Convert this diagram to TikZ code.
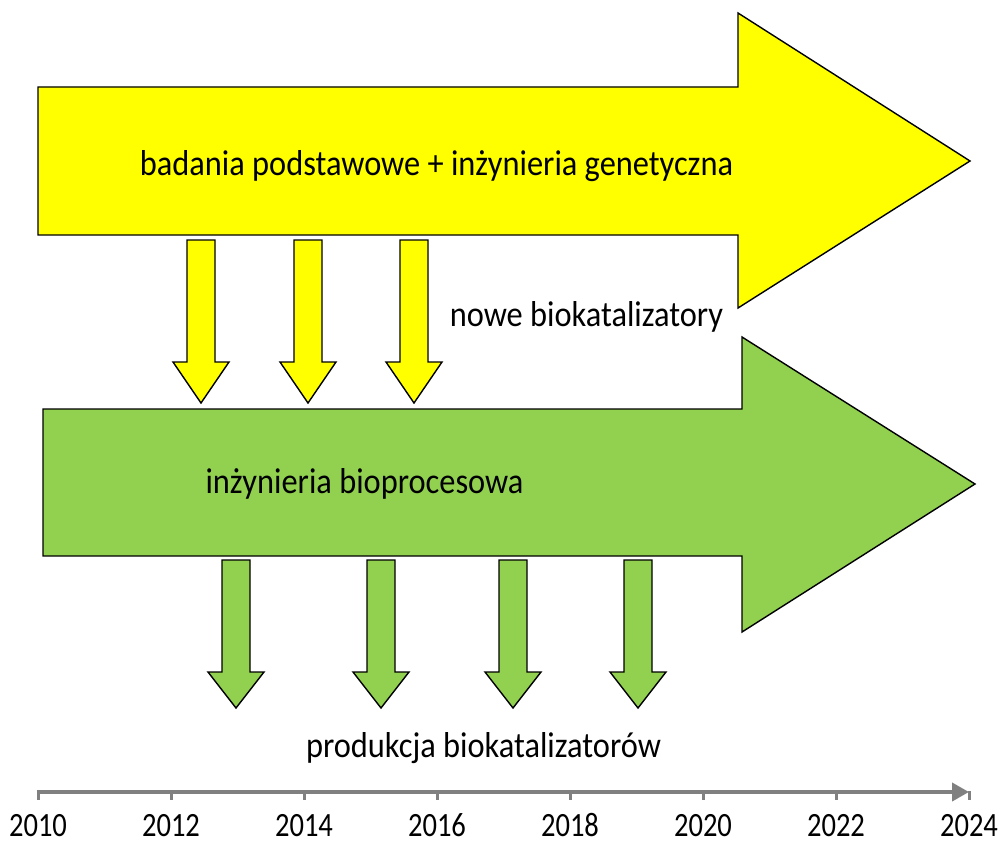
\documentclass[tikz,border=0pt]{standalone}
\usepackage{fontspec}
\setmainfont{Carlito}
\newfontfamily\lblfont[FakeStretch=0.9]{Carlito}
\newfontfamily\yrfont[FakeStretch=0.84]{Carlito}
\usetikzlibrary{arrows.meta}
\definecolor{ylw}{HTML}{FFFF00}
\definecolor{grn}{HTML}{92D050}
\definecolor{axgray}{HTML}{808080}
\tikzset{
  bigarr/.style = {draw=black, line width=1.4pt, line join=miter},
  dnarr/.style  = {draw=black, line width=1.4pt, line join=miter},
  lbl/.style    = {font=\lblfont\fontsize{36}{42}\selectfont, inner sep=0pt, anchor=base},
  yr/.style     = {font=\yrfont\fontsize{34}{40}\selectfont, inner sep=0pt, anchor=base},
  axis/.style   = {draw=axgray, line width=4pt, -{Triangle[length=17pt, width=18pt]}},
  tick/.style   = {draw=axgray, line width=3pt},
}

\begin{document}
\begin{tikzpicture}[x=1pt, y=-1pt]
\useasboundingbox (0,0) rectangle (999,843);

% basic research arrow
\path[bigarr, fill=ylw] (38,87) -- (738,87) -- (738,13) -- (970,161)
  -- (738,308) -- (738,235) -- (38,235) -- cycle;
\foreach \x in {201,308,414}
  \path[dnarr, fill=ylw] (\x-14,240) -- (\x+14,240) -- (\x+14,362) -- (\x+28,362)
    -- (\x,403) -- (\x-28,362) -- (\x-14,362) -- cycle;

% bioprocess arrow
\path[bigarr, fill=grn] (43,409) -- (742,409) -- (742,337) -- (975,484)
  -- (742,632) -- (742,556) -- (43,556) -- cycle;
\foreach \x in {236,381,513,638}
  \path[dnarr, fill=grn] (\x-14,560) -- (\x+14,560) -- (\x+14,672) -- (\x+28,672)
    -- (\x,708) -- (\x-28,672) -- (\x-14,672) -- cycle;

\node[lbl] (basic) at (436.5,175) {badania podstawowe + inżynieria genetyczna};
\node[lbl] (newcat) at (586.5,326) {nowe biokatalizatory};
\node[lbl] (bioproc) at (364.5,493) {inżynieria bioprocesowa};
\node[lbl] (prod) at (483.5,757) {produkcja biokatalizatorów};

% time axis
\coordinate (ax0) at (36.5,792);
\coordinate (ax1) at (969,792);
\draw[axis] (ax0) -- (ax1);
\foreach \i in {0,...,7} {
  \draw[tick] (38+133*\i,791) -- (38+133*\i,800);
  \pgfmathtruncatemacro{\yy}{2010+2*\i}
  \node[yr] (y\i) at (38+133*\i,836) {\yy};
}
\end{tikzpicture}
\end{document}
